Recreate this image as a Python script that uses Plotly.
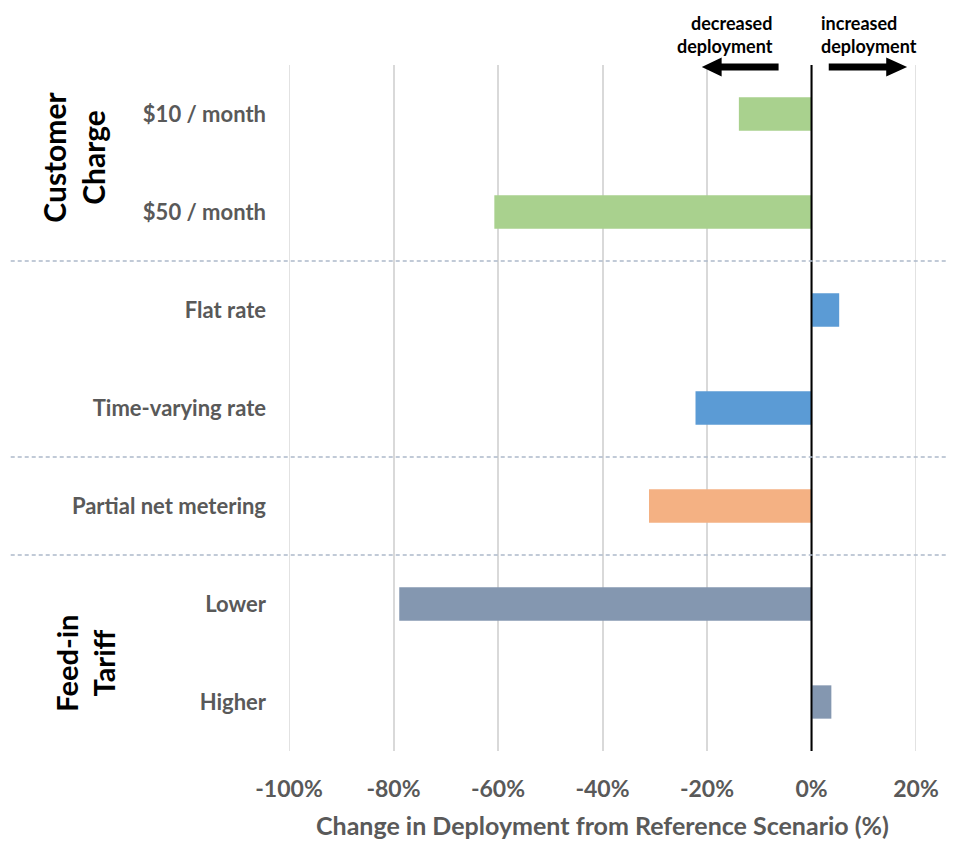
import plotly.graph_objects as go

# ---- data ----
categories = ["$10 / month", "$50 / month", "Flat rate", "Time-varying rate",
              "Partial net metering", "Lower", "Higher"]
values = [-13.9, -60.7, 5.3, -22.2, -31.1, -78.9, 3.8]
colors = ["#A9D18E", "#A9D18E", "#5B9BD5", "#5B9BD5", "#F4B183", "#8497B0", "#8497B0"]
x_ticks = [-100, -80, -60, -40, -20, 0, 20]
x_tick_labels = ["-100%", "-80%", "-60%", "-40%", "-20%", "0%", "20%"]
group_labels = ["Customer<br>Charge", "Feed-in<br>Tariff"]
separators = [1.5, 3.5, 4.5]

FONT = "Lato"
GREY = "#595959"

OFF = 8  # default page body margin
W, H = 954 - OFF, 842 - OFF
# plot area in page pixels: left 288.5, right 916, top 65, bottom 751
L = 288.5 - OFF
R = W - (916 - OFF)
T = 65 - OFF
B = H - (751 - OFF)
pw = W - L - R
ph = H - T - B

def px_to_paper_x(px):  # page pixel -> paper
    return (px - OFF - L) / pw

def py_to_paper_y(py):
    return (H - B - (py - OFF)) / ph

ypos = list(range(len(categories)))

fig = go.Figure()
fig.add_trace(go.Bar(
    y=ypos, x=values, orientation="h", width=0.34,
    marker=dict(color=colors, line=dict(width=0)),
    hoverinfo="x+text", text=categories, textposition="none",
))

shapes = []
# edge gridlines (plotly omits them at the range ends)
for xv in (x_ticks[0], x_ticks[-1]):
    shapes.append(dict(type="line", xref="x", yref="paper", x0=xv, x1=xv, y0=0, y1=1,
                       line=dict(color="#D9D9D9", width=1.5), layer="below"))
# zero line on top
shapes.append(dict(type="line", xref="x", yref="paper", x0=0, x1=0, y0=0, y1=1,
                   line=dict(color="black", width=2), layer="above"))
# dashed separators
for s in separators:
    shapes.append(dict(type="line", xref="paper", yref="y",
                       x0=px_to_paper_x(10), x1=1 + R / pw, y0=s, y1=s,
                       line=dict(color="#ADB9CA", width=1.5, dash="4px,3px"), layer="above"))

# arrows (decorations)
ya = py_to_paper_y(67)
hh = 19 / ph / 2
sh = 7 / ph / 2
shapes.append(dict(type="path", xref="x", yref="paper",
                   path=f"M -6.3 {ya+sh} L -17.2 {ya+sh} L -17.2 {ya+hh} L -21.0 {ya} "
                        f"L -17.2 {ya-hh} L -17.2 {ya-sh} L -6.3 {ya-sh} Z",
                   fillcolor="black", line=dict(width=0), layer="above"))
shapes.append(dict(type="path", xref="x", yref="paper",
                   path=f"M 3.3 {ya+sh} L 14.3 {ya+sh} L 14.3 {ya+hh} L 18.3 {ya} "
                        f"L 14.3 {ya-hh} L 14.3 {ya-sh} L 3.3 {ya-sh} Z",
                   fillcolor="black", line=dict(width=0), layer="above"))

annotations = []
annotations.append(dict(text="<b>decreased<br>deployment</b>", xref="x", yref="paper",
                        x=-7.07, y=py_to_paper_y(34), xanchor="right", yanchor="middle",
                        align="right", showarrow=False,
                        font=dict(family=FONT, size=18, color="black")))
annotations.append(dict(text="<b>increased<br>deployment</b>", xref="x", yref="paper",
                        x=1.5, y=py_to_paper_y(34), xanchor="left", yanchor="middle",
                        align="left", showarrow=False,
                        font=dict(family=FONT, size=18, color="black")))
# group labels
annotations.append(dict(text=f"<b>{group_labels[0]}</b>", xref="paper", yref="paper",
                        x=px_to_paper_x(72), y=py_to_paper_y(157), textangle=-90,
                        xanchor="center", yanchor="middle", showarrow=False,
                        font=dict(family=FONT, size=30, color="black")))
annotations.append(dict(text=f"<b>{group_labels[1]}</b>", xref="paper", yref="paper",
                        x=px_to_paper_x(84), y=py_to_paper_y(663), textangle=-90,
                        xanchor="center", yanchor="middle", showarrow=False,
                        font=dict(family=FONT, size=29, color="black")))

fig.update_layout(
    width=W, height=H,
    margin=dict(l=L, r=R, t=T, b=B, autoexpand=False),
    paper_bgcolor="white", plot_bgcolor="white",
    showlegend=False,
    shapes=shapes, annotations=annotations,
    font=dict(family=FONT, color=GREY),
    xaxis=dict(range=[-100, 20], tickvals=x_ticks, ticktext=[f"<b>{t}</b>" for t in x_tick_labels],
               showgrid=True, gridcolor="#D9D9D9", gridwidth=1.5, zeroline=False,
               showline=False, ticks="", ticklabelstandoff=22,
               tickfont=dict(family=FONT, size=23, color=GREY),
               title=dict(text="<b>Change in Deployment from Reference Scenario (%)</b>",
                          font=dict(family=FONT, size=25, color=GREY), standoff=16)),
    yaxis=dict(range=[len(categories) - 0.5, -0.5], tickvals=ypos,
               ticktext=[f"<b>{c}</b>" for c in categories],
               showgrid=False, zeroline=False, showline=False, ticks="",
               ticklabelstandoff=22,
               tickfont=dict(family=FONT, size=22, color=GREY)),
)

fig.write_html("out.html")
